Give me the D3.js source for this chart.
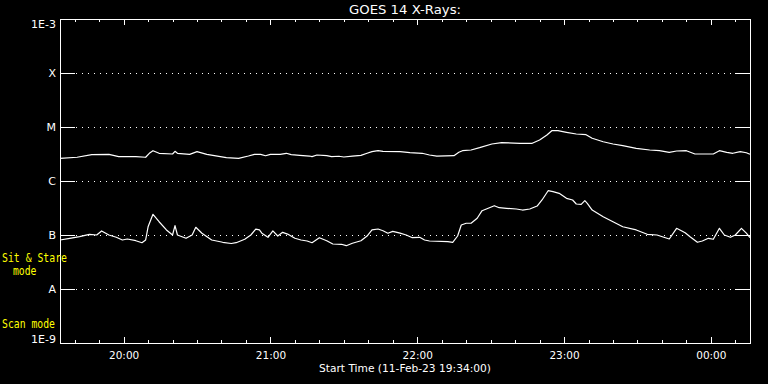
<!DOCTYPE html>
<html>
<head>
<meta charset="utf-8">
<script src="https://cdn.jsdelivr.net/npm/d3@7"></script>
<style>
  html, body { margin: 0; padding: 0; background: #000; }
  svg { display: block; }
  text { font-family: "DejaVu Sans", sans-serif; fill: #fff; }
</style>
</head>
<body>
<svg id="chart" width="768" height="384"></svg>
<script>
// ---- Data (minutes after start time 19:34:00) ----
const startLabel = "Start Time (11-Feb-23 19:34:00)";
const titleText = "GOES 14 X-Rays:";
const totalMinutes = 282;

// Long channel (upper curve)
const longTimes = [0,7,13,20,24,31,35,36.5,38,40.5,46,47,48,53,56,60,68,73,77,79.5,82,84,86,90,92.5,94.5,98,102,103,105,109,111,114,116,119.5,123,125.5,127.5,130,132,139,143,148,151,154,161,163,164.5,168,171.5,176.5,180.5,188,193,196,199,201,203.5,207,211,215,217.5,222,226,230,235.5,241,245,249,252,256,259.5,267,269.5,272.5,275,278,280.5,282];
const longFlux = [2.63e-6,2.75e-6,3.07e-6,3.12e-6,2.82e-6,2.82e-6,2.75e-6,3.26e-6,3.64e-6,3.26e-6,3.16e-6,3.55e-6,3.26e-6,3.12e-6,3.49e-6,3.12e-6,2.70e-6,2.63e-6,2.90e-6,3.12e-6,3.12e-6,2.94e-6,3.12e-6,3.12e-6,3.26e-6,3.07e-6,2.99e-6,2.90e-6,2.82e-6,3.03e-6,2.94e-6,2.82e-6,2.87e-6,2.78e-6,2.90e-6,2.99e-6,3.26e-6,3.49e-6,3.64e-6,3.55e-6,3.49e-6,3.34e-6,3.26e-6,3.03e-6,2.90e-6,2.94e-6,3.40e-6,3.64e-6,3.75e-6,4.14e-6,4.84e-6,5.12e-6,4.99e-6,4.99e-6,5.74e-6,7.11e-6,8.54e-6,8.54e-6,7.98e-6,7.42e-6,7.20e-6,6.18e-6,5.34e-6,4.84e-6,4.51e-6,4.03e-6,3.75e-6,3.64e-6,3.40e-6,3.59e-6,3.64e-6,3.16e-6,3.16e-6,3.64e-6,3.40e-6,3.26e-6,3.49e-6,3.34e-6,3.12e-6];

// Short channel (lower curve)
const shortTimes = [0,4,8,12,15,17,20,23,25.5,27.5,31,33.5,35,36,38,40.5,43.5,46,47,48,51.5,54,55.5,58,62,66.5,70,72,75.5,78,80,81.5,82.5,85,87,89,91,93,96,98.5,101,103,106,109,111.5,115,117,119.5,123,125.5,127.5,130,132,134,136,139,141.5,144,147,149,151,158.5,160.5,162.5,164,166,168,170.5,172.5,175.5,177.5,179.5,182.5,186.5,189,192,195,197,199.5,201.5,204,207,209.5,211,213,214.5,215.5,217.5,222,226,230,235.5,240,244,249,252,255.5,257.5,260.5,262.5,265,267,269.5,271.5,274,276,278.5,280.5,282];
const shortFlux = [8.08e-8,8.69e-8,9.30e-8,1.03e-7,1.00e-7,1.19e-7,1.00e-7,9.07e-8,8.08e-8,8.43e-8,7.84e-8,7.20e-8,8.08e-8,1.42e-7,2.42e-7,1.76e-7,1.24e-7,1.00e-7,1.49e-7,1.00e-7,8.69e-8,1.00e-7,1.39e-7,1.08e-7,8.08e-8,7.33e-8,6.96e-8,7.20e-8,8.33e-8,1.00e-7,1.28e-7,1.24e-7,1.08e-7,9.07e-8,1.19e-7,9.58e-8,1.12e-7,1.04e-7,8.69e-8,8.08e-8,7.74e-8,7.20e-8,8.91e-8,7.84e-8,6.81e-8,6.73e-8,6.34e-8,7.02e-8,7.84e-8,9.58e-8,1.24e-7,1.29e-7,1.20e-7,1.08e-7,1.17e-7,1.08e-7,1.00e-7,8.91e-8,9.07e-8,8.08e-8,7.74e-8,7.51e-8,7.33e-8,9.58e-8,1.53e-7,1.65e-7,1.65e-7,2.04e-7,2.82e-7,3.20e-7,3.49e-7,3.20e-7,3.12e-7,3.03e-7,2.90e-7,3.03e-7,3.44e-7,4.45e-7,6.61e-7,6.34e-7,5.92e-7,4.78e-7,4.45e-7,3.75e-7,3.70e-7,4.32e-7,3.86e-7,2.90e-7,2.18e-7,1.76e-7,1.42e-7,1.24e-7,1.03e-7,1.00e-7,8.43e-8,1.33e-7,1.10e-7,9.30e-8,7.33e-8,7.74e-8,8.69e-8,8.33e-8,1.33e-7,1.00e-7,9.07e-8,1.00e-7,1.33e-7,1.08e-7,8.91e-8];

// Axis ticks
const xMajorMinutes = [26, 86, 146, 206, 266];
const xMajorLabels = ["20:00", "21:00", "22:00", "23:00", "00:00"];
const yLevels = [1e-3, 1e-4, 1e-5, 1e-6, 1e-7, 1e-8, 1e-9];
const yLabels = ["1E-3", "X", "M", "C", "B", "A", "1E-9"];
const modeLabels = [["Sit & Stare", "mode"], ["Scan mode"]];

// ---- Layout ----
const svg = d3.select("#chart");
const L = 60, R = 750, T = 19, B = 343;
const x = d3.scaleLinear().domain([0, totalMinutes]).range([L, R]);
const y = d3.scaleLog().domain([1e-9, 1e-3]).range([B, T]);

svg.append("rect").attr("width", 768).attr("height", 384).attr("fill", "#000");

// dotted level lines
const inner = yLevels.slice(1, -1);
svg.append("g").selectAll("line").data(inner).join("line")
  .attr("x1", L + 16).attr("x2", R - 15)
  .attr("y1", d => Math.round(y(d)) + 0.5).attr("y2", d => Math.round(y(d)) + 0.5)
  .attr("stroke", "#fff").attr("stroke-width", 1)
  .attr("stroke-dasharray", "1,5").attr("shape-rendering", "crispEdges");

// minor ticks every 10 minutes
const minor = d3.range(6, totalMinutes, 10).filter(m => !xMajorMinutes.includes(m));

function styleAxis(g) {
  g.select(".domain").remove();
  g.selectAll("line").attr("stroke", "#fff").attr("shape-rendering", "crispEdges");
  g.selectAll("text").attr("fill", "#fff").attr("font-family", "DejaVu Sans, sans-serif");
}

// bottom axis
svg.append("g").attr("transform", `translate(0,${B})`)
  .call(d3.axisBottom(x).tickValues(xMajorMinutes).tickFormat((d, i) => xMajorLabels[i]).tickSize(-6).tickPadding(9))
  .call(styleAxis)
  .call(g => g.selectAll("text").attr("font-size", 10.5));
svg.append("g").attr("transform", `translate(0,${B})`)
  .call(d3.axisBottom(x).tickValues(minor).tickFormat("").tickSize(-3))
  .call(styleAxis);
// top axis
svg.append("g").attr("transform", `translate(0,${T})`)
  .call(d3.axisTop(x).tickValues(xMajorMinutes).tickFormat("").tickSize(-6))
  .call(styleAxis);
svg.append("g").attr("transform", `translate(0,${T})`)
  .call(d3.axisTop(x).tickValues(minor).tickFormat("").tickSize(-3))
  .call(styleAxis);

// left axis
svg.append("g").attr("transform", `translate(${L},0)`)
  .call(d3.axisLeft(y).tickValues(yLevels).tickFormat((d, i) => yLabels[i]).tickSize(-15).tickPadding(4))
  .call(styleAxis)
  .call(g => g.selectAll("text").attr("font-size", 11)
    .attr("dy", (d, i) => i === 0 ? "0.75em" : (i === yLevels.length - 1 ? "-0.05em" : "0.35em")));
// right axis
svg.append("g").attr("transform", `translate(${R},0)`)
  .call(d3.axisRight(y).tickValues(yLevels).tickFormat("").tickSize(-15))
  .call(styleAxis);

// frame
svg.append("rect").attr("x", L + 0.5).attr("y", T + 0.5)
  .attr("width", R - L).attr("height", B - T)
  .attr("fill", "none").attr("stroke", "#fff").attr("stroke-width", 1)
  .attr("shape-rendering", "crispEdges");

// curves
const line = d3.line().x(d => x(d[0])).y(d => y(d[1]));
const longData = longTimes.map((t, i) => [t, longFlux[i]]);
const shortData = shortTimes.map((t, i) => [t, shortFlux[i]]);
[longData, shortData].forEach(data => {
  svg.append("path").datum(data).attr("d", line)
    .attr("fill", "none").attr("stroke", "#fff").attr("stroke-width", 1.2)
    .attr("stroke-linejoin", "round");
});

// title
svg.append("text").attr("x", (L + R) / 2).attr("y", 14)
  .attr("text-anchor", "middle").attr("font-size", 12)
  .attr("textLength", 112).attr("lengthAdjust", "spacingAndGlyphs")
  .text(titleText);

// start time label
svg.append("text").attr("x", (L + R) / 2).attr("y", 372)
  .attr("text-anchor", "middle").attr("font-size", 11)
  .attr("textLength", 172).attr("lengthAdjust", "spacingAndGlyphs")
  .text(startLabel);

// mode labels (yellow)
const mono = "DejaVu Sans Mono, monospace";
svg.append("text").attr("x", 2).attr("y", 262).attr("font-size", 11.5)
  .attr("font-family", mono).style("font-family", mono)
  .attr("textLength", 65).attr("lengthAdjust", "spacingAndGlyphs")
  .style("fill", "#ffff00").text(modeLabels[0][0]);
svg.append("text").attr("x", 13).attr("y", 275).attr("font-size", 11.5)
  .attr("font-family", mono).style("font-family", mono)
  .attr("textLength", 23.5).attr("lengthAdjust", "spacingAndGlyphs")
  .style("fill", "#ffff00").text(modeLabels[0][1]);
svg.append("text").attr("x", 2).attr("y", 328).attr("font-size", 11.5)
  .attr("font-family", mono).style("font-family", mono)
  .attr("textLength", 53).attr("lengthAdjust", "spacingAndGlyphs")
  .style("fill", "#ffff00").text(modeLabels[1][0]);
</script>
</body>
</html>
